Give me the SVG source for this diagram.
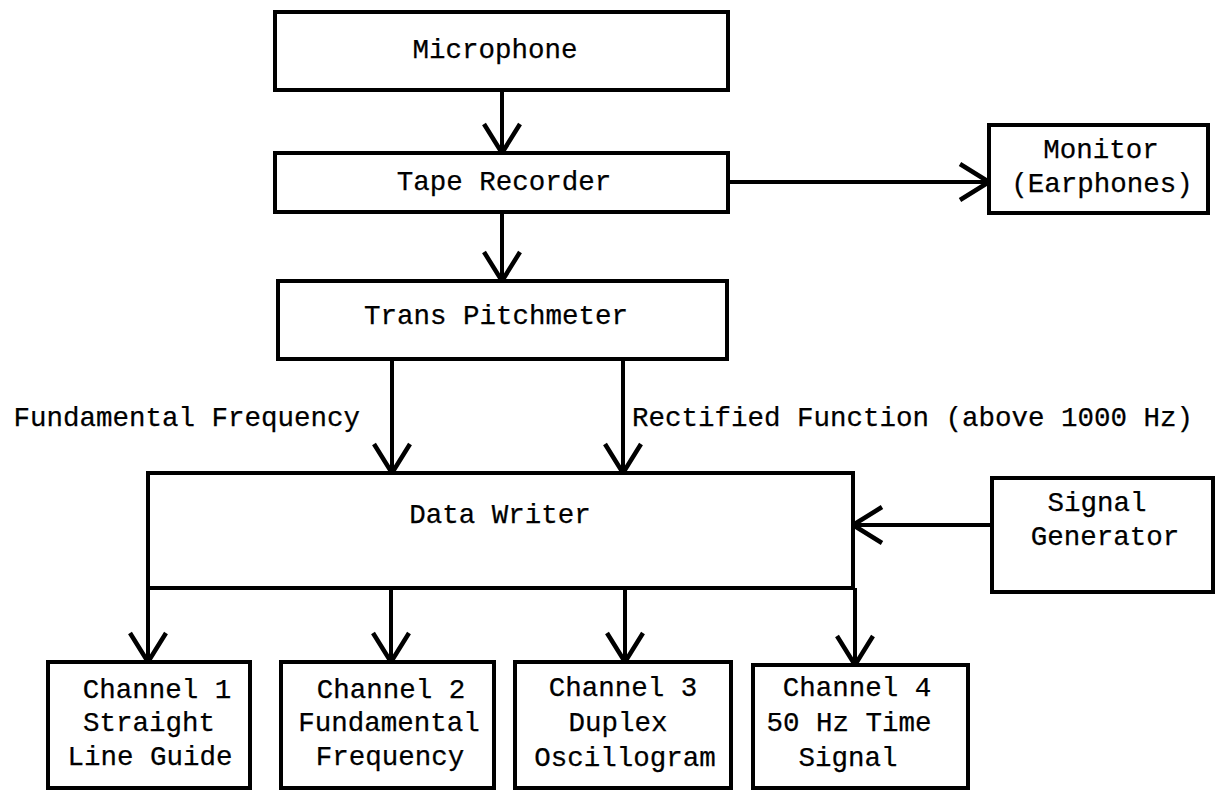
<svg xmlns="http://www.w3.org/2000/svg" width="1219" height="793" viewBox="0 0 1219 793">
  <style>
    .box { fill: #fff; stroke: #000; stroke-width: 4; }
    .wire { fill: none; stroke: #000; stroke-width: 4; }
    text { font-family: "Liberation Mono", "DejaVu Sans Mono", monospace; font-size: 27.5px; fill: #000; stroke: #000; stroke-width: 0.25; }
    .c { text-anchor: middle; }
  </style>
  <defs>
    <!-- open V arrowhead shared by every connector -->
    <marker id="vee" markerUnits="userSpaceOnUse" viewBox="-32 -22 36 44" refX="0" refY="0" markerWidth="36" markerHeight="44" orient="auto">
      <path d="M-29,-18 L0,0 L-29,18" fill="none" stroke="#000" stroke-width="4.5" stroke-linejoin="miter"/>
    </marker>
  </defs>
  <rect width="1219" height="793" fill="#fff"/>

  <!-- connectors -->
  <g id="connectors">
    <line class="wire" x1="502" y1="90" x2="502" y2="153" marker-end="url(#vee)"/>
    <line class="wire" x1="728" y1="182" x2="989" y2="182" marker-end="url(#vee)"/>
    <line class="wire" x1="502" y1="212" x2="502" y2="281" marker-end="url(#vee)"/>
    <line class="wire" x1="392" y1="359" x2="392" y2="473" marker-end="url(#vee)"/>
    <line class="wire" x1="623" y1="359" x2="623" y2="473" marker-end="url(#vee)"/>
    <line class="wire" x1="992" y1="525" x2="853" y2="525" marker-end="url(#vee)"/>
    <line class="wire" x1="148" y1="588" x2="148" y2="662" marker-end="url(#vee)"/>
    <line class="wire" x1="391" y1="588" x2="391" y2="662" marker-end="url(#vee)"/>
    <line class="wire" x1="625" y1="588" x2="625" y2="662" marker-end="url(#vee)"/>
    <line class="wire" x1="855" y1="588" x2="855" y2="665" marker-end="url(#vee)"/>
  </g>

  <!-- edge labels -->
  <g id="labels">
    <text x="360" y="426" text-anchor="end">Fundamental Frequency</text>
    <text x="632" y="426">Rectified Function (above 1000 Hz)</text>
  </g>

  <g id="microphone">
    <rect class="box" x="275" y="12" width="453" height="78"/>
    <text class="c" x="495" y="58">Microphone</text>
  </g>
  <g id="tape-recorder">
    <rect class="box" x="275" y="153" width="453" height="59"/>
    <text class="c" x="504" y="190">Tape Recorder</text>
  </g>
  <g id="monitor">
    <rect class="box" x="989" y="125" width="219" height="88"/>
    <text class="c" x="1101" y="158">Monitor</text>
    <text class="c" x="1102" y="192">(Earphones)</text>
  </g>
  <g id="trans-pitchmeter">
    <rect class="box" x="278" y="281" width="449" height="78"/>
    <text class="c" x="496" y="324">Trans Pitchmeter</text>
  </g>
  <g id="data-writer">
    <rect class="box" x="148" y="473" width="705" height="115"/>
    <text class="c" x="500" y="523">Data Writer</text>
  </g>
  <g id="signal-generator">
    <rect class="box" x="992" y="478" width="221" height="114"/>
    <text class="c" x="1097" y="511">Signal</text>
    <text class="c" x="1105" y="545">Generator</text>
  </g>
  <g id="channel-1">
    <rect class="box" x="48" y="662" width="202" height="126"/>
    <text class="c" x="157" y="698">Channel 1</text>
    <text class="c" x="149" y="731">Straight</text>
    <text class="c" x="150" y="765">Line Guide</text>
  </g>
  <g id="channel-2">
    <rect class="box" x="281" y="662" width="213" height="126"/>
    <text class="c" x="391" y="698">Channel 2</text>
    <text class="c" x="389" y="731">Fundamental</text>
    <text class="c" x="390" y="765">Frequency</text>
  </g>
  <g id="channel-3">
    <rect class="box" x="515" y="662" width="216" height="126"/>
    <text class="c" x="623" y="696">Channel 3</text>
    <text class="c" x="618" y="731">Duplex</text>
    <text class="c" x="625" y="766">Oscillogram</text>
  </g>
  <g id="channel-4">
    <rect class="box" x="753" y="665" width="215" height="123"/>
    <text class="c" x="857" y="696">Channel 4</text>
    <text class="c" x="849" y="731">50 Hz Time</text>
    <text class="c" x="848" y="766">Signal</text>
  </g>
</svg>
